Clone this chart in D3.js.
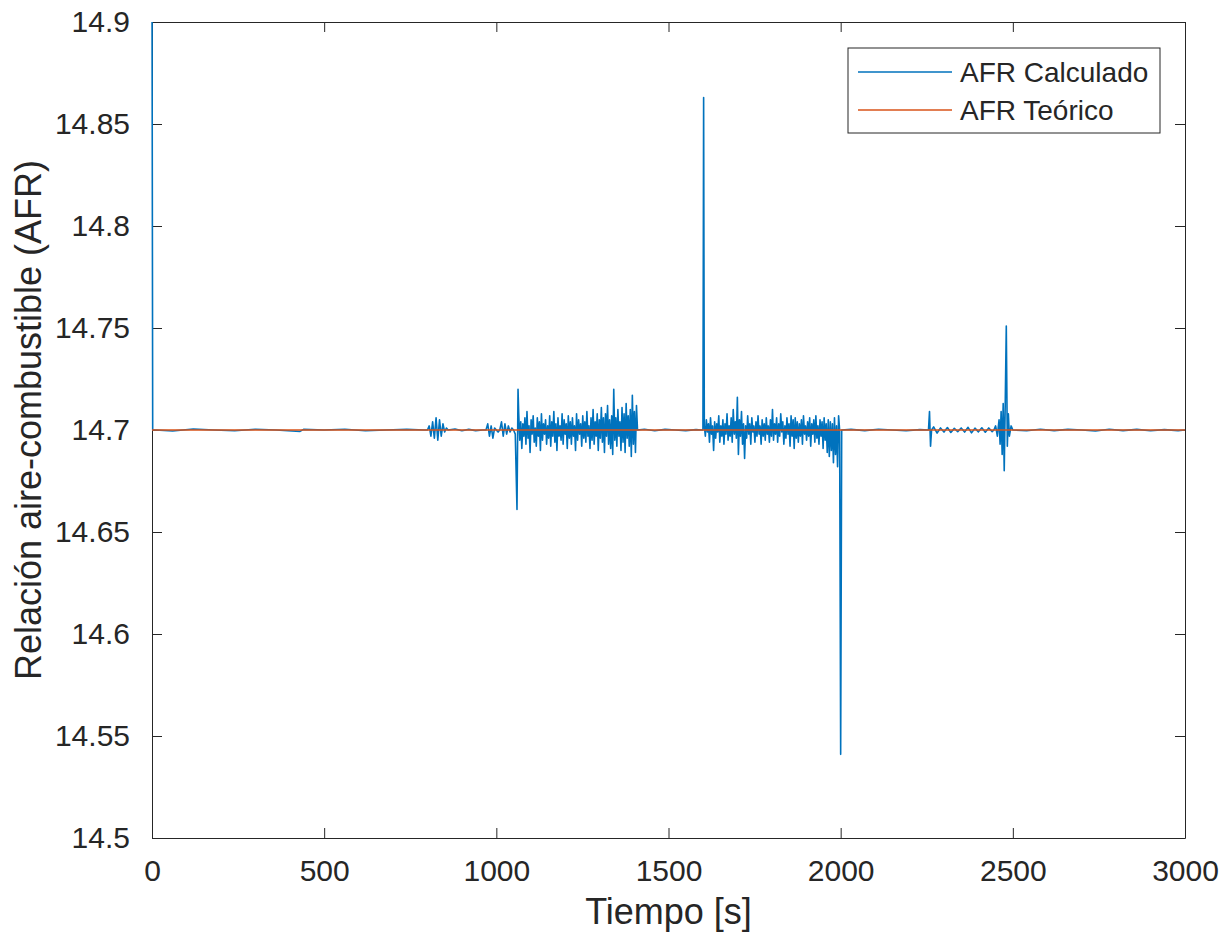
<!DOCTYPE html>
<html>
<head>
<meta charset="utf-8">
<script src="https://cdnjs.cloudflare.com/ajax/libs/d3/7.8.5/d3.min.js"></script>
<style>
  body { margin: 0; background: #fff; }
  text { font-family: "Liberation Sans", Arial, sans-serif; fill: #262626; }
</style>
</head>
<body>
<div id="chart"></div>
<script>
// Data (time in s, AFR)
const calcTime = [
  0, 2, 10, 60, 120, 180, 240, 300, 360, 430, 440, 500, 560, 620, 680, 740, 790,
  800, 805, 810, 815, 820, 825, 830, 835, 840, 845, 850, 855, 860,
  880, 900, 920, 940, 960,
  970, 975, 980, 985, 990, 995, 1000, 1005, 1010, 1015, 1020, 1025, 1030, 1035, 1040, 1045, 1050, 1055,
  1060, 1063,
  1065, 1068, 1071, 1074, 1077, 1080, 1083, 1086, 1089, 1092,
  1095, 1098, 1101, 1104, 1107, 1110, 1113, 1116, 1119, 1122,
  1125, 1128, 1131, 1134, 1137, 1140, 1143, 1146, 1149, 1152,
  1155, 1158, 1161, 1164, 1167, 1170, 1173, 1176, 1179, 1182,
  1185, 1188, 1191, 1194, 1197, 1200, 1203, 1206, 1209, 1212,
  1215, 1218, 1221, 1224, 1227, 1230, 1233, 1236, 1239, 1242,
  1245, 1248, 1251, 1254, 1257, 1260, 1263, 1266, 1269, 1272,
  1275, 1278, 1281, 1284, 1287, 1290, 1293, 1296, 1299, 1302,
  1305, 1308, 1311, 1314, 1317, 1320, 1323, 1326, 1329, 1332,
  1335, 1338, 1341, 1344, 1347, 1350, 1353, 1356, 1359, 1362,
  1365, 1368, 1371, 1374, 1377, 1380, 1383, 1386, 1389, 1392,
  1395, 1398, 1401, 1404, 1407, 1410,
  1430, 1460, 1490, 1520, 1550, 1580, 1595,
  1600, 1602, 1604,
  1607, 1610, 1613, 1616, 1619, 1622, 1625, 1628, 1631, 1634,
  1637, 1640, 1643, 1646, 1649, 1652, 1655, 1658, 1661, 1664,
  1667, 1670, 1673, 1676, 1679, 1682, 1685, 1688, 1691, 1694,
  1697, 1700, 1703, 1706, 1709, 1712, 1715, 1718, 1721, 1724,
  1727, 1730, 1733, 1736, 1739, 1742, 1745, 1748, 1751, 1754,
  1757, 1760, 1763, 1766, 1769, 1772, 1775, 1778, 1781, 1784,
  1787, 1790, 1793, 1796, 1799, 1802, 1805, 1808, 1811, 1814,
  1817, 1820, 1823, 1826, 1829, 1832, 1835, 1838, 1841, 1844,
  1847, 1850, 1853, 1856, 1859, 1862, 1865, 1868, 1871, 1874,
  1877, 1880, 1883, 1886, 1889, 1892, 1895, 1898, 1901, 1904,
  1907, 1910, 1913, 1916, 1919, 1922, 1925, 1928, 1931, 1934,
  1937, 1940, 1943, 1946, 1949, 1952, 1955, 1958, 1961, 1964,
  1967, 1970, 1973, 1976, 1979, 1982, 1985, 1988, 1991, 1994,
  1997, 2000, 2003,
  2030, 2070, 2110, 2150, 2190, 2230,
  2255, 2258, 2261, 2264,
  2270, 2280, 2290, 2300, 2310, 2320, 2330, 2340, 2350, 2360, 2370, 2380, 2390, 2400, 2410, 2420, 2430, 2440,
  2445, 2450, 2455, 2460, 2463, 2466, 2469, 2472, 2475, 2478, 2481, 2484, 2487, 2490, 2495, 2500,
  2540, 2580, 2620, 2660, 2700, 2740, 2780, 2820, 2860, 2900, 2940, 2980, 3000
];
const calcAFR = [
  14.92, 14.700, 14.700, 14.6995, 14.7005, 14.700, 14.6996, 14.7004, 14.700, 14.6993, 14.7003, 14.700, 14.7004, 14.6996, 14.700, 14.7003, 14.700,
  14.700, 14.702, 14.697, 14.704, 14.696, 14.706, 14.695, 14.705, 14.697, 14.703, 14.699, 14.701, 14.700,
  14.7005, 14.6996, 14.7003, 14.6997, 14.700,
  14.700, 14.703, 14.697, 14.702, 14.696, 14.701, 14.700, 14.699, 14.700, 14.704, 14.697, 14.703, 14.698, 14.702, 14.699, 14.701, 14.700, 14.698,
  14.661, 14.720,
  14.708, 14.695, 14.704, 14.691, 14.703, 14.697, 14.706, 14.693, 14.709, 14.696,
  14.702, 14.689, 14.705, 14.698, 14.707, 14.694, 14.701, 14.692, 14.706, 14.697,
  14.704, 14.690, 14.708, 14.695, 14.703, 14.698, 14.705, 14.693, 14.702, 14.696,
  14.707, 14.692, 14.704, 14.697, 14.709, 14.694, 14.703, 14.690, 14.706, 14.697,
  14.702, 14.695, 14.708, 14.693, 14.705, 14.698, 14.703, 14.691, 14.707, 14.696,
  14.704, 14.693, 14.706, 14.697, 14.702, 14.690, 14.708, 14.695, 14.705, 14.698,
  14.703, 14.692, 14.707, 14.696, 14.704, 14.694, 14.709, 14.697, 14.702, 14.691,
  14.706, 14.695, 14.710, 14.693, 14.704, 14.697, 14.708, 14.690, 14.705, 14.696,
  14.711, 14.694, 14.706, 14.689, 14.708, 14.697, 14.712, 14.693, 14.705, 14.691,
  14.707, 14.688, 14.720, 14.695, 14.706, 14.692, 14.710, 14.697, 14.704, 14.690,
  14.711, 14.694, 14.708, 14.689, 14.713, 14.696, 14.707, 14.692, 14.710, 14.687,
  14.717, 14.693, 14.709, 14.689, 14.712, 14.700,
  14.7004, 14.6996, 14.7003, 14.700, 14.6997, 14.7002, 14.700,
  14.700, 14.863, 14.702,
  14.697, 14.705, 14.699, 14.703, 14.694, 14.706, 14.698, 14.702, 14.690, 14.704,
  14.696, 14.703, 14.699, 14.707, 14.694, 14.702, 14.697, 14.705, 14.693, 14.703,
  14.698, 14.708, 14.695, 14.702, 14.697, 14.706, 14.694, 14.710, 14.698, 14.704,
  14.696, 14.716, 14.688, 14.705, 14.697, 14.709, 14.693, 14.703, 14.686, 14.702,
  14.696, 14.707, 14.698, 14.703, 14.693, 14.706, 14.699, 14.702, 14.694, 14.704,
  14.697, 14.707, 14.698, 14.702, 14.693, 14.705, 14.697, 14.703, 14.695, 14.706,
  14.698, 14.702, 14.694, 14.705, 14.697, 14.710, 14.695, 14.703, 14.698, 14.706,
  14.694, 14.703, 14.697, 14.708, 14.699, 14.704, 14.693, 14.702, 14.696, 14.706,
  14.698, 14.703, 14.692, 14.707, 14.697, 14.705, 14.691, 14.706, 14.696, 14.704,
  14.694, 14.703, 14.697, 14.705, 14.693, 14.707, 14.698, 14.702, 14.695, 14.704,
  14.697, 14.706, 14.692, 14.703, 14.698, 14.705, 14.694, 14.707, 14.696, 14.702,
  14.693, 14.705, 14.697, 14.704, 14.691, 14.706, 14.695, 14.703, 14.689, 14.705,
  14.687, 14.704, 14.690, 14.703, 14.684, 14.706, 14.688, 14.702, 14.682, 14.707,
  14.700, 14.541, 14.700,
  14.7003, 14.6997, 14.7004, 14.700, 14.6996, 14.7002,
  14.700, 14.709, 14.692, 14.700,
  14.7015, 14.6985, 14.701, 14.699, 14.7012, 14.6988, 14.7008, 14.6992, 14.701, 14.699, 14.7013, 14.6986, 14.7009, 14.6991, 14.7011, 14.6989, 14.701, 14.6992,
  14.700, 14.702, 14.697, 14.705, 14.693, 14.709, 14.688, 14.713, 14.680, 14.714, 14.751, 14.692, 14.708, 14.697, 14.702, 14.700,
  14.6996, 14.7004, 14.6997, 14.7003, 14.700, 14.6995, 14.7004, 14.6997, 14.7003, 14.6996, 14.7002, 14.6997, 14.700
];
const teoTime = [0, 3000];
const teoAFR = [14.7, 14.7];

const seriesNames = ["AFR Calculado", "AFR Teórico"];
const seriesColors = ["#0072BD", "#D95319"];
const xTicks = [0, 500, 1000, 1500, 2000, 2500, 3000];
const yTicks = [14.5, 14.55, 14.6, 14.65, 14.7, 14.75, 14.8, 14.85, 14.9];
const yTickLabels = ["14.5", "14.55", "14.6", "14.65", "14.7", "14.75", "14.8", "14.85", "14.9"];

//Setting the dimensions and margins of the graph
const margin = {top: 22, right: 42, bottom: 96, left: 152},
    width = 1227 - margin.left - margin.right,
    height = 934 - margin.top - margin.bottom;

const svg = d3.select("#chart")
    .append("svg")
    .attr("width", 1227)
    .attr("height", 934)
    .append("g")
    .attr("transform", `translate(${margin.left},${margin.top})`);

const x = d3.scaleLinear().domain([0, 3000]).range([0, width]);
const y = d3.scaleLinear().domain([14.5, 14.9]).range([height, 0]);

svg.append("clipPath").attr("id", "clip")
    .append("rect").attr("x", -1).attr("width", width + 1).attr("height", height);

// Axes (MATLAB style: ticks inside, box on)
const axisStyle = g => {
    g.selectAll(".domain").attr("stroke", "#262626");
    g.selectAll(".tick line").attr("stroke", "#262626");
};
svg.append("g")
    .attr("transform", `translate(0,${height})`)
    .call(d3.axisBottom(x).tickValues(xTicks).tickSizeInner(-10).tickSizeOuter(0).tickPadding(22)
        .tickFormat(d3.format("d")))
    .call(axisStyle)
    .call(g => g.selectAll("text").attr("font-size", 30).attr("fill", "#262626"));
svg.append("g")
    .call(d3.axisTop(x).tickValues(xTicks).tickSizeInner(-10).tickSizeOuter(0).tickFormat(""))
    .call(axisStyle);
svg.append("g")
    .call(d3.axisLeft(y).tickValues(yTicks).tickSizeInner(-10).tickSizeOuter(0).tickPadding(22)
        .tickFormat((d, i) => yTickLabels[i]))
    .call(axisStyle)
    .call(g => g.selectAll("text").attr("font-size", 30).attr("fill", "#262626"));
svg.append("g")
    .attr("transform", `translate(${width},0)`)
    .call(d3.axisRight(y).tickValues(yTicks).tickSizeInner(-10).tickSizeOuter(0).tickFormat(""))
    .call(axisStyle);

// Lines
const calcData = calcTime.map((t, i) => ({t: t, v: calcAFR[i]}));
const teoData = teoTime.map((t, i) => ({t: t, v: teoAFR[i]}));
const line = d3.line().x(d => x(d.t)).y(d => y(d.v));

svg.append("path")
    .datum(calcData)
    .attr("clip-path", "url(#clip)")
    .attr("fill", "none")
    .attr("stroke", seriesColors[0])
    .attr("stroke-width", 1.6)
    .attr("stroke-linejoin", "round")
    .attr("d", line);

svg.append("path")
    .datum(teoData)
    .attr("clip-path", "url(#clip)")
    .attr("fill", "none")
    .attr("stroke", seriesColors[1])
    .attr("stroke-width", 1.5)
    .attr("d", line);

// Axis titles
svg.append("text")
    .attr("x", width / 2)
    .attr("y", height + 86)
    .attr("text-anchor", "middle")
    .attr("font-size", 36)
    .text("Tiempo [s]");
svg.append("text")
    .attr("transform", `translate(-111,${height / 2 - 10}) rotate(-90)`)
    .attr("text-anchor", "middle")
    .attr("font-size", 36)
    .text("Relación aire-combustible (AFR)");

// Legend
const legend = svg.append("g").attr("transform", `translate(${848 - margin.left},${48 - margin.top})`);
legend.append("rect")
    .attr("width", 312).attr("height", 85)
    .attr("fill", "#fff").attr("stroke", "#262626").attr("stroke-width", 1);
seriesNames.forEach((name, i) => {
    legend.append("line")
        .attr("x1", 10).attr("x2", 104)
        .attr("y1", 24 + i * 38).attr("y2", 24 + i * 38)
        .attr("stroke", seriesColors[i]).attr("stroke-width", 1.5);
    legend.append("text")
        .attr("x", 112).attr("y", 24 + i * 38)
        .attr("dy", "0.35em")
        .attr("font-size", 28)
        .text(name);
});
</script>
</body>
</html>
